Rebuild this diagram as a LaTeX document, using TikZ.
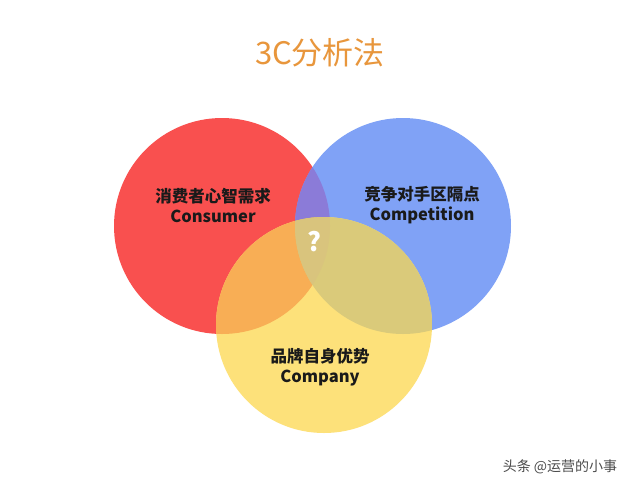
\documentclass[tikz,border=0pt]{standalone}
\usepackage{fontspec}
\newfontfamily\cjk{Noto Sans CJK SC}
\definecolor{consumerRed}{HTML}{F9504F}
\definecolor{competitionBlue}{HTML}{80A2F6}
\definecolor{companyYellow}{HTML}{FDE17A}
\definecolor{redBlue}{HTML}{8B7BD8}
\definecolor{redYellow}{HTML}{F8AE55}
\definecolor{blueYellow}{HTML}{DACA7A}
\definecolor{allThree}{HTML}{D9C47D}
\definecolor{titleOrange}{HTML}{E8963C}
\definecolor{labelText}{HTML}{1A1A1A}
\begin{document}
\begin{tikzpicture}[x=1pt,y=-1pt,
    setlabel/.style={font=\cjk\bfseries\fontsize{16.5}{20}\selectfont,text=labelText,align=center}]
  \useasboundingbox[fill=white] (0,0) rectangle (640,491);
  \coordinate (consumer) at (222,226);
  \coordinate (competition) at (403,226);
  \coordinate (company) at (324,325);

  % Three circles
  \fill[consumerRed] (consumer) circle [radius=108pt];
  \fill[competitionBlue] (competition) circle [radius=108pt];
  \fill[companyYellow] (company) circle [radius=108pt];

  % Overlaps
  \begin{scope}
    \clip (consumer) circle [radius=108pt];
    \fill[redBlue] (competition) circle [radius=108pt];
    \fill[redYellow] (company) circle [radius=108pt];
  \end{scope}
  \begin{scope}
    \clip (competition) circle [radius=108pt];
    \fill[blueYellow] (company) circle [radius=108pt];
    \clip (consumer) circle [radius=108pt];
    \fill[allThree] (company) circle [radius=108pt];
  \end{scope}

  % Labels
  \node[font=\cjk\fontsize{31}{36}\selectfont,text=titleOrange] (title) at (320,53) {3C分析法};
  \node[setlabel] (consumerText) at (213,205) {消费者心智需求\\Consumer};
  \node[setlabel] (competitionText) at (422,205) {竞争对手区隔点\\Competition};
  \node[setlabel] (companyText) at (320,367) {品牌自身优势\\Company};
  \node[font=\cjk\bfseries\fontsize{26}{30}\selectfont,text=white] (unknown) at (314,242) {?};
  \node[font=\cjk\fontsize{14}{16}\selectfont,text=black!70] (mark) at (560,467) {头条 @运营的小事};
\end{tikzpicture}
\end{document}
